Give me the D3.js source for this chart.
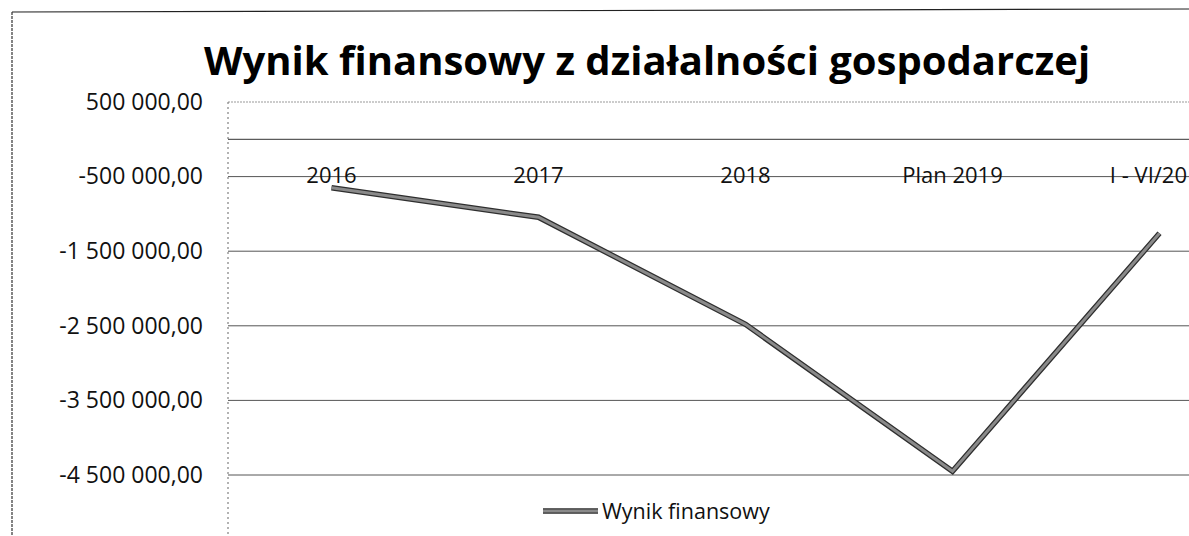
<!DOCTYPE html>
<html>
<head>
<meta charset="utf-8">
<script src="https://cdn.jsdelivr.net/npm/d3@7"></script>
<style>
  html, body { margin: 0; padding: 0; background: #fff; }
  svg { display: block; font-family: 'Open Sans', 'DejaVu Sans', sans-serif; }
</style>
</head>
<body>
<svg id="chart" width="1189" height="536"></svg>
<script>
// dane z wykresu
const categories = ['2016', '2017', '2018', 'Plan 2019', 'I - VI/20'];
const wynik = [-650000, -1045000, -2480000, -4450000, -1260000];
const yTicks = [500000, -500000, -1500000, -2500000, -3500000, -4500000];
const title = 'Wynik finansowy z działalności gospodarczej';
const seriesName = 'Wynik finansowy';

const svg = d3.select('#chart');
const W = 1189, H = 536;
const plot = { left: 228, top: 102, step: 207 };

const pl = d3.formatLocale({ decimal: ',', thousands: ' ', grouping: [3], currency: ['', ' zł'], minus: '-' });
const fmt = pl.format(',.2f');

const x = d3.scaleBand()
  .domain(categories)
  .range([plot.left, plot.left + categories.length * plot.step])
  .padding(0);

const y = d3.scaleLinear()
  .domain([500000, -5500000])
  .range([plot.top, plot.top + 6 * 74.6]);

// ramka wykresu
svg.append('line').attr('x1', 12).attr('x2', W).attr('y1', 12).attr('y2', 9)
  .attr('stroke', '#222').attr('stroke-width', 1.2);
svg.append('line').attr('x1', 12).attr('x2', 12).attr('y1', 12).attr('y2', H)
  .attr('stroke', '#333').attr('stroke-width', 1.2).attr('stroke-dasharray', '3 1');

// tytul
svg.append('text')
  .attr('x', 647).attr('y', 75)
  .attr('text-anchor', 'middle')
  .attr('font-size', 40).attr('font-weight', 700).attr('fill', '#000')
  .text(title);

// linie siatki
svg.append('g').selectAll('line').data(yTicks).enter().append('line')
  .attr('x1', plot.left).attr('x2', W)
  .attr('y1', d => y(d)).attr('y2', d => y(d))
  .attr('stroke', (d, i) => i === 0 ? '#999' : '#555')
  .attr('stroke-width', 1)
  .attr('stroke-dasharray', (d, i) => i === 0 ? '2 1' : null);

// lewa krawedz obszaru
svg.append('line').attr('x1', plot.left).attr('x2', plot.left)
  .attr('y1', plot.top).attr('y2', H)
  .attr('stroke', '#666').attr('stroke-dasharray', '2 3');

// os y
const yAxis = svg.append('g')
  .attr('transform', 'translate(203,0)')
  .call(d3.axisLeft(y).tickValues(yTicks).tickFormat(fmt).tickSize(0).tickPadding(0));
yAxis.select('.domain').remove();
yAxis.selectAll('text').attr('font-size', 23).attr('fill', '#111')
  .attr('font-family', "'Open Sans', sans-serif");

// os kategorii (na 0)
const xAxis = svg.append('g')
  .attr('transform', `translate(0,${y(0)})`)
  .call(d3.axisBottom(x).tickSize(0).tickPadding(28));
xAxis.select('.domain').attr('stroke', '#333').attr('d', `M${plot.left},0H${W}`);
xAxis.selectAll('text').attr('font-size', 22).attr('fill', '#111')
  .attr('font-family', "'Open Sans', sans-serif");
// etykieta przy prawej krawedzi - dosun do brzegu
xAxis.selectAll('text').each(function () {
  const b = this.getBBox();
  const tx = x(this.textContent) + x.bandwidth() / 2;
  const over = tx + b.x + b.width - (W - 2);
  if (over > 0) d3.select(this).attr('x', -over);
});

// linia serii
const line = d3.line()
  .x((d, i) => x(categories[i]) + x.bandwidth() / 2)
  .y(d => y(d));

svg.append('path').datum(wynik).attr('d', line)
  .attr('fill', 'none').attr('stroke', '#2e2e2e').attr('stroke-width', 5.5)
  .attr('stroke-linejoin', 'miter');
svg.append('path').datum(wynik).attr('d', line)
  .attr('fill', 'none').attr('stroke', '#8a8a8a').attr('stroke-width', 3)
  .attr('stroke-linejoin', 'miter');

// legenda
const lg = svg.append('g').attr('transform', 'translate(543,511)');
lg.append('line').attr('x1', 0).attr('x2', 55)
  .attr('stroke', '#2e2e2e').attr('stroke-width', 5.5);
lg.append('line').attr('x1', 0).attr('x2', 55)
  .attr('stroke', '#8a8a8a').attr('stroke-width', 3);
lg.append('text').attr('x', 59).attr('y', 0).attr('dy', '0.35em')
  .attr('font-size', 21.5).attr('fill', '#111')
  .text(seriesName);
</script>
</body>
</html>
